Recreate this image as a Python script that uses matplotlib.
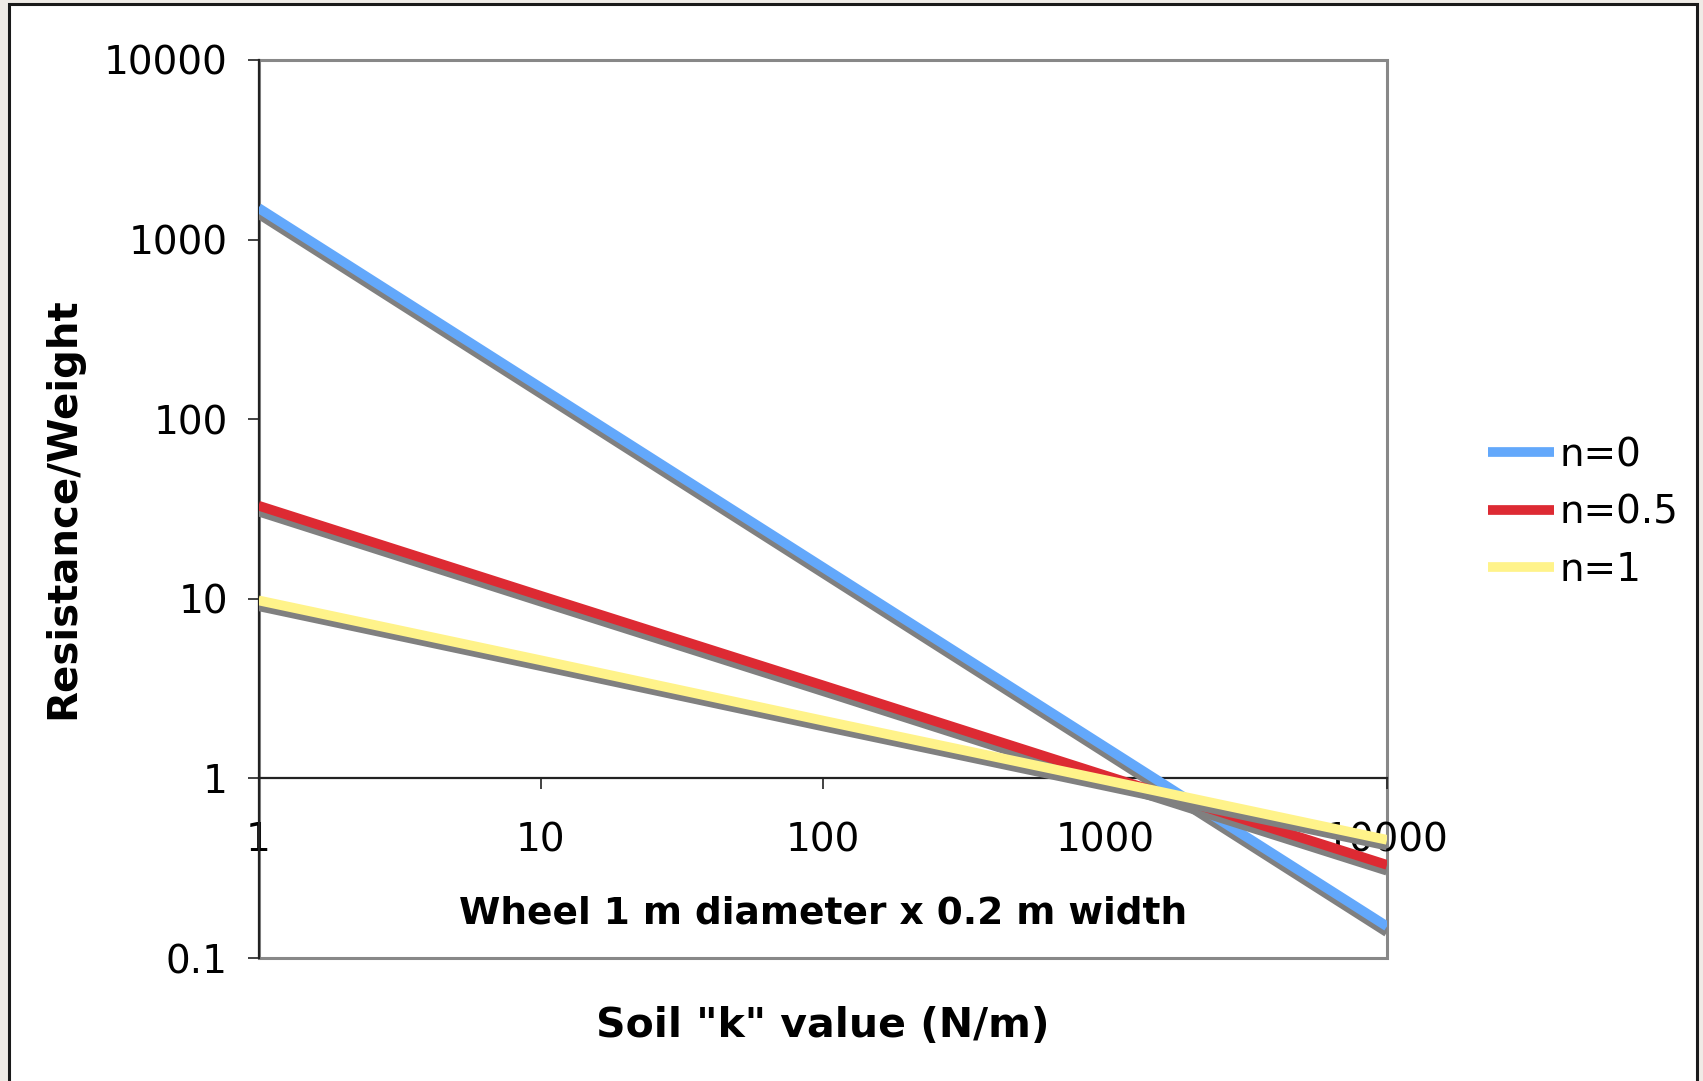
import matplotlib
matplotlib.use("Agg")
import matplotlib.pyplot as plt
import matplotlib.patheffects as pe
from matplotlib.lines import Line2D
from matplotlib.patches import Rectangle

# soil k values (N/m) and resistance/weight for each exponent n
k_values = [1, 10, 100, 1000, 10000]
res_n0 = [1500, 150, 15, 1.5, 0.15]
res_n05 = [33, 10.4, 3.3, 1.04, 0.33]
res_n1 = [9.8, 4.55, 2.1, 0.98, 0.455]

labels = ["n=0", "n=0.5", "n=1"]
colors = ["#63a8fb", "#dd2a33", "#fff38a"]
x_ticks = [1, 10, 100, 1000, 10000]
y_ticks = [0.1, 1, 10, 100, 1000, 10000]
tick_labels_x = ["1", "10", "100", "1000", "10000"]
tick_labels_y = ["0.1", "1", "10", "100", "1000", "10000"]

W, H = 1703, 1081
fig = plt.figure(figsize=(W / 100, H / 100), dpi=100, facecolor="#efebe6")

# white chart area with dark frame
fig.patches.append(Rectangle((9 / W, -0.01), (1697 - 9) / W, 1 - 4 / H + 0.01,
                             transform=fig.transFigure, facecolor="white",
                             edgecolor="#1a1a1a", linewidth=2.2, zorder=-5))

ax_bottom = 1 - 958 / H
ax_height = (958 - 60) / H
ax = fig.add_axes([258.5 / W, ax_bottom, (1387 - 258.5) / W, ax_height])
ax.set_xscale("log")
ax.set_yscale("log")
ax.set_xlim(1, 10000)
ax.set_ylim(0.1, 10000)
ax.patch.set_alpha(0)

shadow = [pe.SimpleLineShadow(offset=(0, -4.2), shadow_color="#808080", alpha=1), pe.Normal()]
for ys, c in zip([res_n0, res_n05, res_n1], colors):
    ax.plot(k_values, ys, color=c, lw=7, solid_capstyle="butt", path_effects=shadow,
            zorder=3)

# plot area border (gray), left axis black
ax.add_patch(Rectangle((0, 0), 1, 1, transform=ax.transAxes, fill=False,
                       edgecolor="#888888", lw=2.2, zorder=1, clip_on=False))
for s in ["top", "right"]:
    ax.spines[s].set_visible(False)
ax.spines["left"].set_color("#222222")
ax.spines["left"].set_linewidth(1.6)
ax.spines["bottom"].set_position(("data", 1))
ax.spines["bottom"].set_color("#222222")
ax.spines["bottom"].set_linewidth(1.6)

ax.set_xticks(x_ticks)
ax.set_xticklabels(tick_labels_x)
ax.set_yticks(y_ticks)
ax.set_yticklabels(tick_labels_y)
ax.minorticks_off()
ax.tick_params(axis="x", direction="out", length=8, width=1.2, color="#222222",
               labelsize=28, pad=23)
ax.tick_params(axis="y", direction="out", length=8, width=1.2, color="#222222",
               labelsize=28, pad=14)

ax.text(0.5, (1 - 913 / H - ax_bottom) / ax_height, "Wheel 1 m diameter x 0.2 m width",
        transform=ax.transAxes, ha="center", va="center", fontsize=27, fontweight="bold")
fig.text(((258.5 + 1387) / 2) / W, 1 - 1026 / H, 'Soil "k" value (N/m)',
         ha="center", va="center", fontsize=29.5, fontweight="bold")
fig.text(63 / W, 1 - 508 / H, "Resistance/Weight", rotation=90,
         ha="center", va="center", fontsize=29, fontweight="bold")

handles = [Line2D([], [], color=c, lw=7, solid_capstyle="butt") for c in colors]
fig.legend(handles, labels, loc="center left", bbox_to_anchor=(1488 / W, 1 - 512.5 / H),
           frameon=False, fontsize=28, handlelength=1.7, handletextpad=0.15,
           labelspacing=0.5, borderpad=0, borderaxespad=0)

fig.savefig("out.png", dpi=100, facecolor=fig.get_facecolor())
